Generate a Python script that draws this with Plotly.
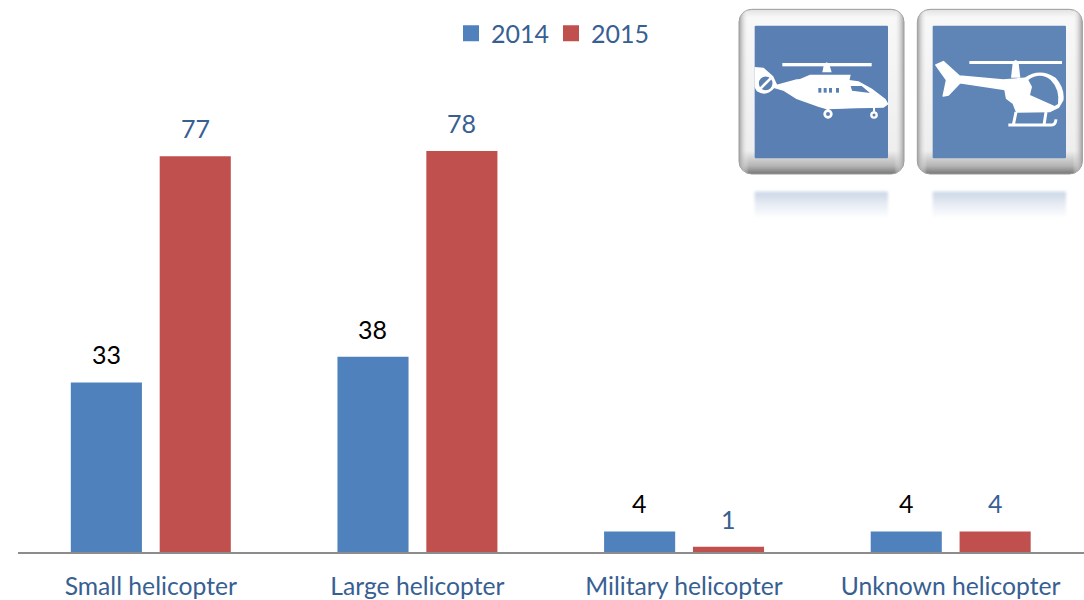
import base64
import plotly.graph_objects as go

# Helicopter incident counts by type and year
categories = ["Small helicopter", "Large helicopter", "Military helicopter", "Unknown helicopter"]
values_2014 = [33, 38, 4, 4]
values_2015 = [77, 78, 1, 4]
series_names = ["2014", "2015"]

BLUE = "#4F81BD"
RED = "#C0504D"
TEXT_BLUE = "#376092"
FONT = "Lato"
W, H = 1084, 600
AXIS_Y = 552
PX_PER_UNIT = 5.14

# Two bevelled pictogram buttons, drawn as one inline SVG
icons_svg = """<svg xmlns="http://www.w3.org/2000/svg" width="1062" height="690" viewBox="0 0 1062 690">
<defs>
<linearGradient id="bevel" x1="0" y1="0" x2="0" y2="1">
<stop offset="0" stop-color="#e2e2e2"/><stop offset="0.05" stop-color="#f8f8f8"/>
<stop offset="0.86" stop-color="#eeeeee"/><stop offset="0.95" stop-color="#b5b5b5"/><stop offset="1" stop-color="#777777"/>
</linearGradient>
<linearGradient id="side" x1="0" y1="0" x2="1" y2="0">
<stop offset="0" stop-color="#a0a0a0"/><stop offset="0.06" stop-color="#ffffff" stop-opacity="0"/>
<stop offset="0.94" stop-color="#ffffff" stop-opacity="0"/><stop offset="1" stop-color="#a0a0a0"/>
</linearGradient>
<linearGradient id="mirror" x1="0" y1="0" x2="0" y2="1">
<stop offset="0" stop-color="#c9d5e6"/><stop offset="0.45" stop-color="#e6ebf3"/><stop offset="1" stop-color="#ffffff"/>
</linearGradient>
<filter id="soft"><feGaussianBlur stdDeviation="2"/></filter>
<filter id="softer"><feGaussianBlur stdDeviation="4"/></filter>
<clipPath id="c1"><rect x="74" y="77" width="400" height="398"/></clipPath>
<clipPath id="c2"><rect x="608" y="77" width="400" height="398"/></clipPath>
</defs>
<g>
<rect x="74" y="575" width="400" height="80" fill="url(#mirror)" filter="url(#softer)"/>
<rect x="608" y="575" width="400" height="80" fill="url(#mirror)" filter="url(#softer)"/>
</g>
<g filter="url(#soft)">
<rect x="27" y="28" width="495" height="494" rx="38" fill="url(#bevel)" stroke="#9a9a9a" stroke-width="3"/>
<rect x="27" y="28" width="495" height="494" rx="38" fill="url(#side)"/>
<rect x="562" y="28" width="495" height="494" rx="38" fill="url(#bevel)" stroke="#9a9a9a" stroke-width="3"/>
<rect x="562" y="28" width="495" height="494" rx="38" fill="url(#side)"/>
<rect x="74" y="77" width="400" height="398" rx="3" fill="#5A80B3"/>
<rect x="608" y="77" width="400" height="398" rx="3" fill="#5F85B6"/>
<g clip-path="url(#c1)" fill="#ffffff">
<rect x="157" y="189" width="268" height="10"/>
<path d="M281,197 Q290,176 299,197 L305,217 L277,217 Z"/>
<path d="M203,240 L240,224 L362,224 L358,243 Z"/>
<path d="M74,203 L100,205 L128,230 L140,256 L200,240 L340,240 L385,246 L425,268 L465,298 L473,312 L460,321 L380,323 L290,326 L265,318 L200,295 L160,270 L132,262 Q108,290 82,272 L74,258 Z" stroke="#ffffff" stroke-width="4"/>
<circle cx="107" cy="250" r="24" fill="#5A80B3" stroke="#ffffff" stroke-width="7"/>
<path d="M92,265 L122,235" stroke="#ffffff" stroke-width="8"/>
<path d="M362,258 L395,258 L420,279 L366,272 Z" fill="#5A80B3"/>
<g fill="#5A80B3"><rect x="265" y="264" width="9" height="14"/><rect x="281" y="264" width="9" height="14"/><rect x="297" y="264" width="9" height="14"/><rect x="318" y="264" width="9" height="14"/></g>
<path d="M294,325 V332 M432,322 V335" stroke="#ffffff" stroke-width="6"/>
<circle cx="294" cy="342" r="10" fill="none" stroke="#ffffff" stroke-width="8"/>
<circle cx="432" cy="345" r="8" fill="none" stroke="#ffffff" stroke-width="7"/>
</g>
<g clip-path="url(#c2)" fill="#ffffff">
<rect x="718" y="183" width="278" height="9"/>
<path d="M848,190 Q857,170 866,190 L871,233 L843,233 Z"/>
<path d="M618,195 L640,185 L688,228 L820,240 L885,235 Q930,205 975,235 Q1002,265 998,300 L985,322 L960,334 L860,336 L850,310 L830,295 L825,268 L690,248 L655,285 L640,288 L650,240 Z" stroke="#ffffff" stroke-width="5" stroke-linejoin="round"/>
<path d="M895,240 Q930,215 962,240 Q990,268 984,312 L974,318 L900,285 L906,260 Z" fill="#5F85B6"/>
<path d="M858,336 L850,375 M948,336 L942,375 M835,375 L965,375 Q976,375 978,358" fill="none" stroke="#ffffff" stroke-width="9"/>
</g>
</g>
</svg>"""
icons_uri = "data:image/svg+xml;base64," + base64.b64encode(icons_svg.encode()).decode()

fig = go.Figure()

# Bars for both years, grouped per category
fig.add_bar(name=series_names[0], x=categories, y=values_2014, marker_color=BLUE,
            marker_line_width=0, showlegend=False)
fig.add_bar(name=series_names[1], x=categories, y=values_2015, marker_color=RED,
            marker_line_width=0, showlegend=False)

# Larger square legend keys than bar traces provide
for name, color in zip(series_names, [BLUE, RED]):
    fig.add_scatter(name=name, x=[None], y=[None], mode="markers",
                    marker=dict(symbol="square", size=16, color=color))

# Value labels above the bars: 2014 in black, 2015 in blue
annotations = []
for cat, a, b in zip(categories, values_2014, values_2015):
    annotations.append(dict(x=cat, y=a, text=str(a), xshift=-44.5, yshift=28, showarrow=False,
                            yanchor="middle", font=dict(family=FONT, size=25, color="#000000")))
    annotations.append(dict(x=cat, y=b, text=str(b), xshift=44.5, yshift=28, showarrow=False,
                            yanchor="middle", font=dict(family=FONT, size=25, color=TEXT_BLUE)))

fig.update_layout(
    width=W, height=H,
    margin=dict(l=0, r=0, t=0, b=0, autoexpand=False),
    paper_bgcolor="white", plot_bgcolor="white",
    barmode="group", bargap=1 / 3, bargroupgap=0.2,
    font=dict(family=FONT, size=25, color=TEXT_BLUE),
    legend=dict(orientation="h", x=451 / W, xanchor="left", y=1 - 33.5 / H, yanchor="middle",
                font=dict(family=FONT, size=25, color=TEXT_BLUE), bgcolor="rgba(0,0,0,0)",
                itemwidth=30, tracegroupgap=0, entrywidth=55, entrywidthmode="pixels"),
    xaxis=dict(domain=[17.5 / W, 1], type="category", categoryorder="array", categoryarray=categories,
               automargin=False, showgrid=False, zeroline=False, showline=True, linecolor="#8C8C8C",
               linewidth=2, ticks="", ticklabelstandoff=11,
               tickfont=dict(family=FONT, size=24.7, color=TEXT_BLUE)),
    yaxis=dict(domain=[(H - AXIS_Y) / H, 1], range=[0, AXIS_Y / PX_PER_UNIT], visible=False,
               automargin=False),
    annotations=annotations,
    images=[dict(source=icons_uri, xref="paper", yref="paper", x=730 / W, y=1,
                 sizex=354 / W, sizey=230 / H, xanchor="left", yanchor="top",
                 sizing="stretch", layer="above")],
)

fig.write_html("out.html")
